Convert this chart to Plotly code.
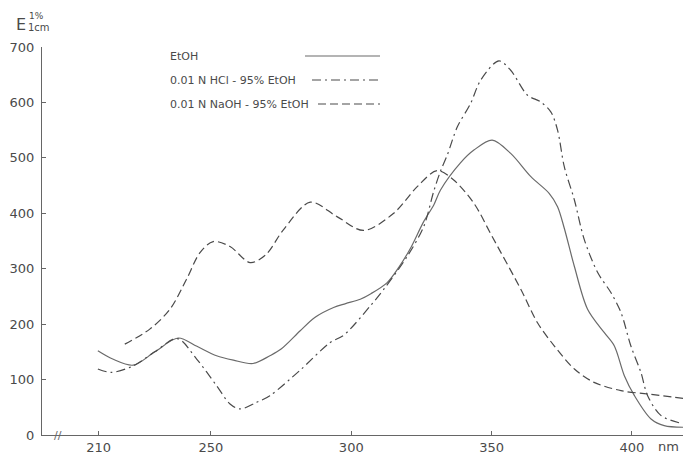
import plotly.graph_objects as go

# Absorption spectra (E 1% 1cm) in three solvents
etoh_nm = [209.7, 215, 222.3, 230, 238.3, 245, 252, 258, 265, 271, 275, 281.8, 287,
           293.7, 298, 303.2, 307, 312.8, 317, 321.1, 325.8, 329.4, 331.8, 338.9, 343.7,
           350.2, 356.8, 364, 370.5, 373.5, 375.9, 379.5, 384.2, 390.1, 393.7, 397.3,
           400.9, 406.8, 411.5, 418.5]
etoh_e = [152, 137, 126, 150, 175, 160, 143, 135, 129, 143, 155, 188, 212,
          230, 237, 245, 255, 275, 303, 337, 385, 415, 442, 491, 514,
          532, 508, 466, 436, 412, 373, 304, 227, 185, 161, 107,
          71, 29, 17, 14]

hcl_nm = [209.7, 214.5, 222, 230, 238, 244.9, 252, 256.8, 260.4, 266.3, 271, 281.8,
          292.5, 297.3, 306.8, 311.6, 319.9, 325.8, 329.4, 331.8, 334.2, 337.8, 342.5,
          346.1, 352.6, 356.8, 362.8, 367.5, 371.1, 373.5, 375.9, 379.5, 383, 387.8,
          392.5, 396.1, 399.6, 403.2, 405.6, 410.4, 418.5]
hcl_e = [119, 113, 124, 150, 174, 137, 89, 56, 47, 59, 71, 117,
         167, 180, 233, 263, 322, 376, 440, 476, 505, 556, 598,
         640, 675, 658, 613, 601, 583, 550, 484, 424, 353, 293,
         257, 221, 161, 113, 71, 35, 20]

naoh_nm = [219.3, 228.2, 235.4, 241.3, 246.1, 250.8, 256.8, 264, 269.5, 275.8, 285.4,
           294.9, 304.4, 315.1, 323.5, 330.6, 336.5, 343.7, 350.2, 360.4, 366.3, 372.3,
           379.5, 386.5, 396.1, 405.6, 418.5]
naoh_e = [164, 191, 227, 281, 329, 349, 340, 311, 325, 370, 420,
          394, 369, 400, 448, 477, 460, 418, 358, 263, 203, 161,
          119, 95, 80, 74, 66]

x_ticks = [210, 250, 300, 350, 400]
y_ticks = [0, 100, 200, 300, 400, 500, 600, 700]

legend_labels = ["EtOH", "0.01 N HCl - 95% EtOH", "0.01 N NaOH - 95% EtOH"]

ink = "#4a4a4a"
axis_color = "#666"
W, H = 683, 456
M_L, M_R, M_T, M_B = 42, 0, 47, 21

styles = [
    ("solid", "#6a6a6a"),
    ("9px,4px,2px,4px", ink),
    ("8px,4px", ink),
]

fig = go.Figure()
for xs, ys, (dash, color), name in zip(
        [etoh_nm, hcl_nm, naoh_nm], [etoh_e, hcl_e, naoh_e], styles, legend_labels):
    fig.add_trace(go.Scatter(
        x=xs, y=ys, mode="lines", name=name, showlegend=False,
        line=dict(color=color, width=1.2, dash=dash, shape="spline", smoothing=0.9),
    ))

fig.update_layout(
    width=W, height=H,
    margin=dict(l=M_L, r=M_R, t=M_T, b=M_B),
    paper_bgcolor="white", plot_bgcolor="white",
    font=dict(family="DejaVu Sans", color=ink, size=13),
    xaxis=dict(
        range=[189.8, 418.2], tickvals=x_ticks, ticktext=[str(v) for v in x_ticks],
        showgrid=False, zeroline=False, showline=True, linecolor=axis_color, linewidth=1,
        ticks="inside", ticklen=4, tickcolor=axis_color,
    ),
    yaxis=dict(
        range=[0, 700], tickvals=y_ticks, ticktext=[str(v) for v in y_ticks],
        showgrid=False, zeroline=False, showline=True, linecolor=axis_color, linewidth=1,
        ticks="inside", ticklen=4, tickcolor=axis_color, ticklabelstandoff=4,
    ),
)


def px_x(p):
    """Page pixel column -> paper x."""
    return (p - M_L) / (W - M_L - M_R)


def px_y(p):
    """Page pixel row -> paper y."""
    return (H - M_B - p) / (H - M_B - M_T)


def note(x, y, text, size, anchor="left", color=ink):
    fig.add_annotation(x=px_x(x), y=px_y(y), xref="paper", yref="paper", text=text,
                       showarrow=False, font=dict(size=size, color=color),
                       xanchor=anchor, yanchor="middle")


# Axis title: E with 1% over 1cm
note(21, 25, "E", 16, "center")
note(27, 16, "1%", 9)
note(26, 28, "1cm", 10)

# Legend: label on the left, line sample on the right
legend_rows = [(56, 305), (80, 312), (104, 318)]
for (py, x0), (dash, color), label in zip(legend_rows, styles, legend_labels):
    note(168, py, label, 11)
    fig.add_shape(type="line", xref="paper", yref="paper",
                  x0=px_x(x0), x1=px_x(380), y0=px_y(py), y1=px_y(py),
                  line=dict(color=color, width=1.2, dash=dash))

# Axis break mark and wavelength unit
note(58, H - M_B, "//", 11, "center", axis_color)
note(668, 447, "nm", 13, "center")

fig.write_html("out.html")
